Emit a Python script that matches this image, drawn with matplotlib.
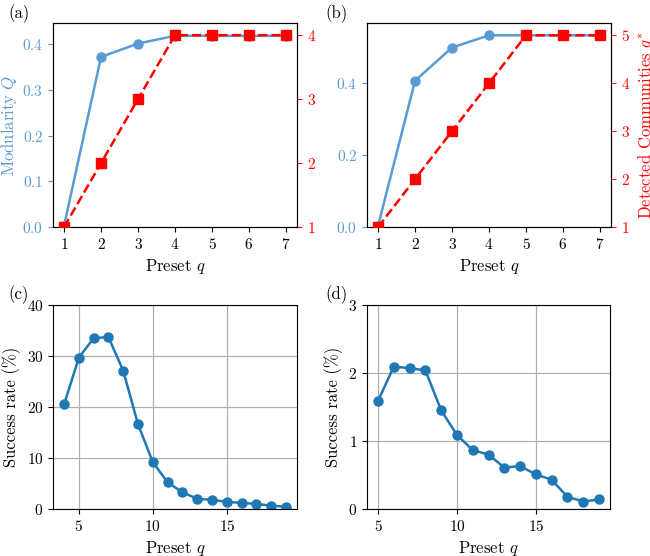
import matplotlib
matplotlib.use("Agg")
import matplotlib.pyplot as plt

plt.rcParams["font.family"] = "serif"
plt.rcParams["font.serif"] = ["cmr10"]
plt.rcParams["mathtext.fontset"] = "cm"
plt.rcParams["axes.formatter.use_mathtext"] = True
plt.rcParams["axes.unicode_minus"] = False

# --- data ---
q_small = [1, 2, 3, 4, 5, 6, 7]
mod_a = [0.003, 0.372, 0.401, 0.418, 0.418, 0.418, 0.418]
det_a = [1, 2, 3, 4, 4, 4, 4]
mod_b = [0.003, 0.405, 0.497, 0.531, 0.531, 0.531, 0.531]
det_b = [1, 2, 3, 4, 5, 5, 5]

q_c = list(range(4, 20))
succ_c = [20.5, 29.7, 33.5, 33.7, 27.1, 16.6, 9.2, 5.2, 3.3, 2.0, 1.8, 1.4, 1.2, 1.0, 0.65, 0.45]
q_d = list(range(5, 20))
succ_d = [1.59, 2.095, 2.07, 2.04, 1.45, 1.09, 0.866, 0.80, 0.61, 0.63, 0.51, 0.43, 0.18, 0.11, 0.14]

BLUE_L = "#5b9bd5"
RED = "#ff0000"
BLUE = "#1f77b4"

fig = plt.figure(figsize=(6.5, 5.56), dpi=100)
W, H = 650, 556


def ax_at(left, top, right, bottom):
    return fig.add_axes([left / W, 1 - bottom / H, (right - left) / W, (bottom - top) / H])


def modularity_panel(ax, mod, det, ylim_l, ylim_r, left_label, right_label):
    ax.plot(q_small, mod, "-o", color=BLUE_L, lw=1.8, ms=6.5, zorder=3)
    ax.set_ylim(*ylim_l)
    ax.set_xticks(q_small)
    ax.set_xlabel(r"Preset $q$", fontsize=12)
    ax.tick_params(axis="y", colors=BLUE_L, labelsize=11)
    ax.tick_params(axis="x", labelsize=11)
    if left_label:
        ax.set_ylabel(r"Modularity $Q$", color=BLUE_L, fontsize=12, labelpad=2)
    ax2 = ax.twinx()
    ax2.plot(q_small, det, "--s", color=RED, lw=1.8, ms=6.5, zorder=4)
    ax2.set_ylim(*ylim_r)
    ax2.set_yticks(range(1, int(ylim_r[1]) + 1))
    ax2.tick_params(axis="y", colors=RED, labelsize=11)
    if right_label:
        ax2.set_ylabel(r"Detected Communities $q^{*}$", color=RED, fontsize=12)
    return ax2


def success_panel(ax, q, succ, ymax, yticks):
    ax.plot(q, succ, "-o", color=BLUE, lw=1.8, ms=6.5)
    ax.set_ylim(0, ymax)
    ax.set_yticks(yticks)
    ax.set_xticks([5, 10, 15])
    ax.grid(True, color="#b0b0b0", lw=0.9)
    ax.set_axisbelow(True)
    ax.set_xlabel(r"Preset $q$", fontsize=12)
    ax.set_ylabel("Success rate (%)", fontsize=12)
    ax.tick_params(labelsize=11)


ax_a = ax_at(53, 23, 297, 227)
modularity_panel(ax_a, mod_a, det_a, (0, 0.446), (1, 4.19), True, False)
ax_a.set_yticks([0.0, 0.1, 0.2, 0.3, 0.4])

ax_b = ax_at(367, 23, 611, 227)
modularity_panel(ax_b, mod_b, det_b, (0, 0.565), (1, 5.257), False, True)
ax_b.set_yticks([0.0, 0.2, 0.4])

ax_c = ax_at(53, 305, 297, 509)
success_panel(ax_c, q_c, succ_c, 40, [0, 10, 20, 30, 40])

ax_d = ax_at(367, 305, 610, 509)
success_panel(ax_d, q_d, succ_d, 3, [0, 1, 2, 3])

for lab, x, y in [("(a)", 8, 4), ("(b)", 325, 4), ("(c)", 8, 285), ("(d)", 325, 285)]:
    fig.text(x / W, 1 - y / H, lab, fontsize=12, va="top", ha="left")

fig.savefig("out.png", dpi=100)
